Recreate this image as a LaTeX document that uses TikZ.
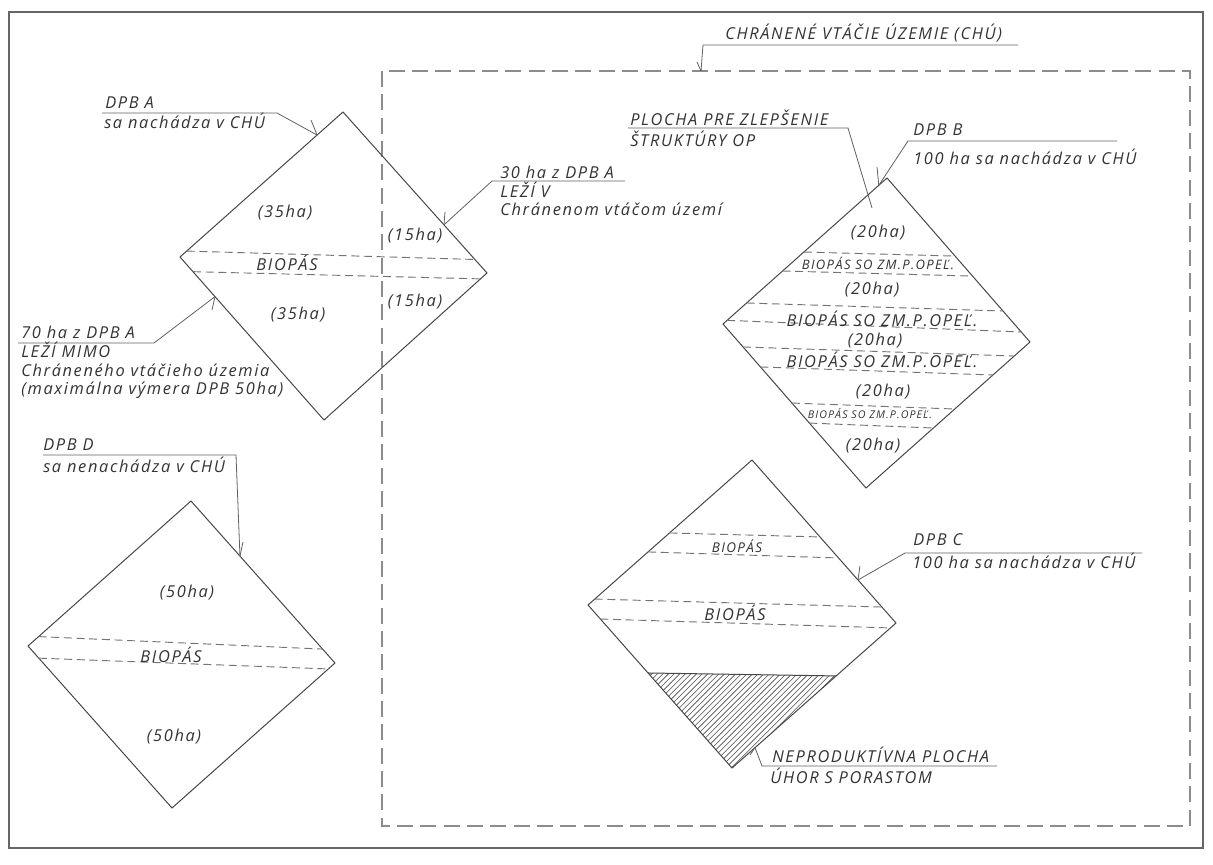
\documentclass[tikz,border=0pt]{standalone}
\usepackage{fontspec}
\setmainfont{Open Sans}
\newfontfamily\lblfont[LetterSpace=10]{Open Sans}
\usetikzlibrary{calc}
\begin{document}
\begin{tikzpicture}[x=0.75pt,y=-0.75pt,
  frame/.style={draw=black!60,line width=0.8pt},
  chuline/.style={draw=black!45,line width=0.9pt,dash pattern=on 12pt off 5.5pt},
  plot/.style={draw=black!72,line width=0.75pt,line join=miter},
  strip/.style={draw=black!55,line width=0.7pt,dash pattern=on 6pt off 3.5pt},
  lead/.style={draw=black!62,line width=0.6pt},
  hatchline/.style={draw=black!70,line width=0.45pt},
  txt/.style={inner sep=0pt,text=black!80,font=\lblfont\itshape\fontsize{12.3pt}{14pt}\selectfont},
  lbl/.style={txt,anchor=base west},
  ctr/.style={txt,anchor=center},
  smalltxt/.style={ctr,font=\lblfont\itshape\fontsize{9.8pt}{11pt}\selectfont},
  tinytxt/.style={ctr,font=\lblfont\itshape\fontsize{8pt}{9pt}\selectfont},
  midtxt/.style={ctr,font=\lblfont\itshape\fontsize{10.1pt}{11pt}\selectfont}
]
\useasboundingbox (0,0) rectangle (1213,864);
\fill[white] (0,0) rectangle (1213,864);
% outer frame
\draw[frame] (9,12) rectangle (1203,848);

% ---------------- CHU area ----------------
\coordinate (K1) at (382,71);
\coordinate (K2) at (1190,826);
\draw[chuline] (K1) rectangle (K2);
\node[lbl] (tChu) at (725,39) {CHRÁNENÉ VTÁČIE ÚZEMIE (CHÚ)};
\coordinate (uChuR) at (1018,45);
\coordinate (uChuL) at (703,45);
\coordinate (eChu) at (701,71);
\coordinate (kChu) at (697,62);
\draw[lead] (uChuR) -- (uChuL) -- (eChu);
\draw[lead] (kChu) -- (eChu);

% ---------------- DPB A ----------------
\coordinate (At) at (343,112);
\coordinate (Ar) at (487,273);
\coordinate (Ab) at (324,420);
\coordinate (Al) at (180,257);
\draw[plot] (At) -- (Ar) -- (Ab) -- (Al) -- cycle;
\coordinate (a1l) at ($(At)!0.959!(Al)$);
\coordinate (a1r) at ($(At)!0.916!(Ar)$);
\coordinate (a2l) at ($(Al)!0.09!(Ab)$);
\coordinate (a2r) at ($(Ar)!0.04!(Ab)$);
\draw[strip] (a1l) -- (a1r);
\draw[strip] (a2l) -- (a2r);
\node[ctr] (a35u) at (285,213) {(35ha)};
\node[ctr] (aBio) at (287,263) {BIOPÁS};
\node[ctr] (a35d) at (298,315) {(35ha)};
\node[ctr] (a15u) at (415,236) {(15ha)};
\node[ctr] (a15d) at (415,302) {(15ha)};

% label DPB A
\node[lbl] (tA1) at (105,108) {DPB A};
\node[lbl] (tA2) at (104,128) {sa nachádza v CHÚ};
\coordinate (uAL) at (102,113);
\coordinate (uAR) at (277,113);
\coordinate (eA) at ($(At)!0.159!(Al)$);
\coordinate (kA) at (311,120);
\draw[lead] (uAL) -- (uAR) -- (eA);
\draw[lead] (kA) -- (eA);

% label 70 ha
\node[lbl] (t70a) at (21,338) {70 ha z DPB A};
\node[lbl] (t70b) at (21,357) {LEŽÍ MIMO};
\node[lbl] (t70c) at (21,376) {Chráneného vtáčieho územia};
\node[lbl] (t70d) at (21,394) {(maximálna výmera DPB 50ha)};
\coordinate (u70L) at (18,343);
\coordinate (u70R) at (154,343);
\coordinate (e70) at ($(Al)!0.243!(Ab)$);
\coordinate (k70) at (212,310);
\draw[lead] (u70L) -- (u70R) -- (e70);
\draw[lead] (k70) -- (e70);

% label 30 ha
\node[lbl] (t30a) at (500,178) {30 ha z DPB A};
\node[lbl] (t30b) at (500,197) {LEŽÍ V};
\node[lbl] (t30c) at (500,215) {Chránenom vtáčom území};
\coordinate (u30R) at (625,181);
\coordinate (u30L) at (492,181);
\coordinate (e30) at ($(At)!0.701!(Ar)$);
\coordinate (k30) at (445,212);
\draw[lead] (u30R) -- (u30L) -- (e30);
\draw[lead] (k30) -- (e30);

% ---------------- DPB B ----------------
\coordinate (Bt) at (887,178);
\coordinate (Br) at (1030,342);
\coordinate (Bb) at (866,488);
\coordinate (Bl) at (723,324);
\draw[plot] (Bt) -- (Br) -- (Bb) -- (Bl) -- cycle;
\coordinate (b1l) at ($(Bt)!0.507!(Bl)$); \coordinate (b1r) at ($(Bt)!0.476!(Br)$);
\coordinate (b2l) at ($(Bt)!0.637!(Bl)$); \coordinate (b2r) at ($(Bt)!0.598!(Br)$);
\coordinate (b3l) at ($(Bt)!0.856!(Bl)$); \coordinate (b3r) at ($(Bt)!0.811!(Br)$);
\coordinate (b4l) at ($(Bt)!0.975!(Bl)$); \coordinate (b4r) at ($(Bt)!0.939!(Br)$);
\coordinate (b5l) at ($(Bl)!0.14!(Bb)$);  \coordinate (b5r) at ($(Br)!0.096!(Bb)$);
\coordinate (b6l) at ($(Bl)!0.262!(Bb)$); \coordinate (b6r) at ($(Br)!0.226!(Bb)$);
\coordinate (b7l) at ($(Bl)!0.482!(Bb)$); \coordinate (b7r) at ($(Br)!0.459!(Bb)$);
\coordinate (b8l) at ($(Bl)!0.604!(Bb)$); \coordinate (b8r) at ($(Br)!0.589!(Bb)$);
\foreach \i in {1,...,8} {\draw[strip] (b\i l) -- (b\i r);}
\node[ctr] (b20a) at (878,233) {(20ha)};
\node[smalltxt] (bBio1) at (878,263) {BIOPÁS SO ZM.P.OPEĽ.};
\node[ctr] (b20b) at (872,290) {(20ha)};
\node[ctr] (bBio2) at (882,319) {BIOPÁS SO ZM.P.OPEĽ.};
\node[ctr] (b20c) at (875,341) {(20ha)};
\node[ctr] (bBio3) at (882,360) {BIOPÁS SO ZM.P.OPEĽ.};
\node[ctr] (b20d) at (883,392) {(20ha)};
\node[tinytxt] (bBio4) at (870,414) {BIOPÁS SO ZM.P.OPEĽ.};
\node[ctr] (b20e) at (873,446) {(20ha)};

% label PLOCHA
\node[lbl] (tPa) at (630,125) {PLOCHA PRE ZLEPŠENIE};
\node[lbl] (tPb) at (630,146) {ŠTRUKTÚRY OP};
\coordinate (uPL) at (628,128);
\coordinate (uPR) at (848,128);
\coordinate (ePl) at (872,208);
\draw[lead] (uPL) -- (uPR) -- (ePl);

% label DPB B
\node[lbl] (tBa) at (913,135) {DPB B};
\node[lbl] (tBb) at (913,164) {100 ha sa nachádza v CHÚ};
\coordinate (uBR) at (1117,141);
\coordinate (uBL) at (908,141);
\coordinate (eB) at ($(Bt)!0.05!(Bl)$);
\coordinate (kB) at (877,167);
\draw[lead] (uBR) -- (uBL) -- (eB);
\draw[lead] (kB) -- (eB);

% ---------------- DPB C ----------------
\coordinate (Ct) at (752,460);
\coordinate (Cr) at (896,623);
\coordinate (Cb) at (732,768);
\coordinate (Cl) at (588,605);
\coordinate (h1) at ($(Cl)!0.417!(Cb)$);
\coordinate (h2) at ($(Cr)!0.365!(Cb)$);
\begin{scope}
  \clip (h1) -- (h2) -- (Cb) -- cycle;
  \foreach \k in {0,...,56} {
    \draw[hatchline] ($(535,785)+(\k*5.6,0)$) -- ++(130,-130);
  }
\end{scope}
\draw[plot] (h1) -- (h2);
\draw[plot] (Ct) -- (Cr) -- (Cb) -- (Cl) -- cycle;
\coordinate (c1l) at ($(Ct)!0.503!(Cl)$); \coordinate (c1r) at ($(Ct)!0.472!(Cr)$);
\coordinate (c2l) at ($(Ct)!0.634!(Cl)$); \coordinate (c2r) at ($(Ct)!0.601!(Cr)$);
\coordinate (c3l) at ($(Ct)!0.959!(Cl)$); \coordinate (c3r) at ($(Ct)!0.902!(Cr)$);
\coordinate (c4l) at ($(Cl)!0.086!(Cb)$); \coordinate (c4r) at ($(Cr)!0.034!(Cb)$);
\foreach \i in {1,...,4} {\draw[strip] (c\i l) -- (c\i r);}
\node[midtxt] (cBio1) at (737,546) {BIOPÁS};
\node[ctr] (cBio2) at (735,613) {BIOPÁS};

% label DPB C
\node[lbl] (tCa) at (913,545) {DPB C};
\node[lbl] (tCb) at (912,568) {100 ha sa nachádza v CHÚ};
\coordinate (uCR) at (1142,553);
\coordinate (uCL) at (905,553);
\coordinate (eC) at ($(Ct)!0.736!(Cr)$);
\coordinate (kC) at (860,566);
\draw[lead] (uCR) -- (uCL) -- (eC);
\draw[lead] (kC) -- (eC);

% label NEPRODUKTIVNA
\node[lbl] (tNa) at (772,762) {NEPRODUKTÍVNA PLOCHA};
\node[lbl] (tNb) at (770,783) {ÚHOR S PORASTOM};
\coordinate (uNR) at (997,766);
\coordinate (uNL) at (762,766);
\coordinate (eN) at ($(Cr)!0.86!(Cb)$);
\coordinate (kN) at (750,755);
\draw[lead] (uNR) -- (uNL) -- (eN);
\draw[lead] (kN) -- (eN);

% ---------------- DPB D ----------------
\coordinate (Dt) at (191,501);
\coordinate (Dr) at (335,663);
\coordinate (Db) at (172,808);
\coordinate (Dl) at (28,646);
\draw[plot] (Dt) -- (Dr) -- (Db) -- (Dl) -- cycle;
\coordinate (d1l) at ($(Dt)!0.935!(Dl)$); \coordinate (d1r) at ($(Dt)!0.914!(Dr)$);
\coordinate (d2l) at ($(Dl)!0.075!(Db)$); \coordinate (d2r) at ($(Dr)!0.041!(Db)$);
\draw[strip] (d1l) -- (d1r);
\draw[strip] (d2l) -- (d2r);
\node[ctr] (d50u) at (187,593) {(50ha)};
\node[ctr] (dBio) at (171,655) {BIOPÁS};
\node[ctr] (d50d) at (174,737) {(50ha)};

% label DPB D
\node[lbl] (tDa) at (43,450) {DPB D};
\node[lbl] (tDb) at (43,472) {sa nenachádza v CHÚ};
\coordinate (uDL) at (43,455);
\coordinate (uDR) at (236,455);
\coordinate (eD) at ($(Dt)!0.34!(Dr)$);
\coordinate (kD) at (243,542);
\draw[lead] (uDL) -- (uDR) -- (eD);
\draw[lead] (kD) -- (eD);
\end{tikzpicture}
\end{document}
